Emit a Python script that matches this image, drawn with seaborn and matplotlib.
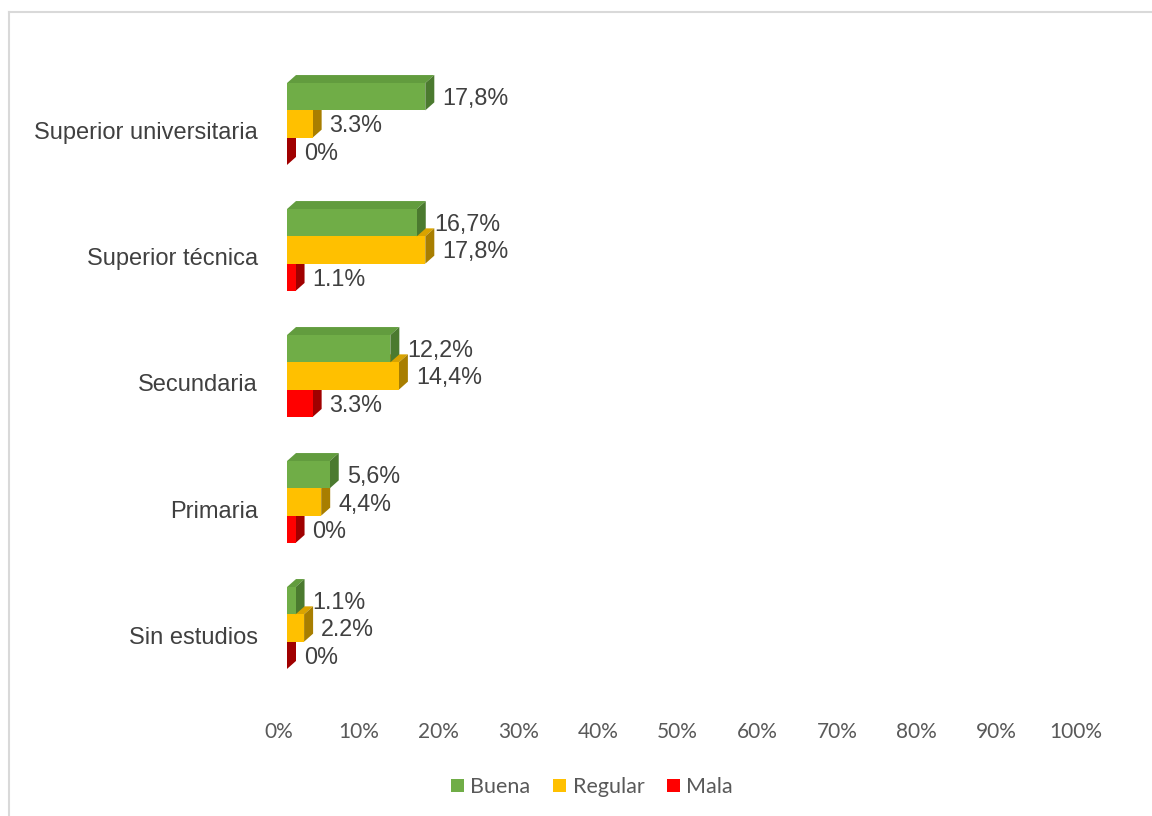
import matplotlib
matplotlib.use("Agg")
import matplotlib.pyplot as plt
from matplotlib.patches import Polygon, Patch
from matplotlib.lines import Line2D
from matplotlib.transforms import ScaledTranslation
import seaborn as sns
import pandas as pd

# ---------------- data ----------------
categories = ["Superior universitaria", "Superior técnica", "Secundaria", "Primaria", "Sin estudios"]
series = ["Buena", "Regular", "Mala"]
buena = [17.8, 16.7, 13.3, 5.5, 1.1]
regular = [3.3, 17.8, 14.4, 4.4, 2.2]
mala = [0.0, 1.1, 3.3, 1.1, 0.0]
buena_labels = ["17,8%", "16,7%", "12,2%", "5,6%", "1.1%"]
regular_labels = ["3.3%", "17,8%", "14,4%", "4,4%", "2.2%"]
mala_labels = ["0%", "1.1%", "3.3%", "0%", "0%"]
xticks = [0, 10, 20, 30, 40, 50, 60, 70, 80, 90, 100]
xtick_labels = [f"{t}%" for t in xticks]

front_colors = ["#70AD47", "#FFC000", "#FF0000"]
top_colors = ["#629C3E", "#D9A300", "#C80000"]
side_colors = ["#4B7A2F", "#A87E00", "#A00000"]

values = [buena, regular, mala]
labels = [buena_labels, regular_labels, mala_labels]

df = pd.DataFrame({
    "Nivel": categories * 3,
    "Serie": [s for s in series for _ in categories],
    "Valor": buena + regular + mala,
})

# ---------------- figure ----------------
W, H = 1152, 816
fig = plt.figure(figsize=(W / 100, H / 100), dpi=100)
fig.patch.set_facecolor("white")

ax_left, ax_w = 287, 777
ax_top, ax_h = 48.4, 655.2
ax = fig.add_axes([ax_left / W, 1 - (ax_top + ax_h) / H, ax_w / W, ax_h / H])

sns.barplot(data=df, y="Nivel", x="Valor", hue="Serie", order=categories,
            hue_order=series, palette=front_colors, saturation=1, width=0.65,
            orient="h", errorbar=None, legend=False, ax=ax, linewidth=0)
ax.set_xlim(0, 100)
ax.set_ylim(4.6, -0.6)
ax.set_xlabel("")
ax.set_ylabel("")
ax.set_xticks([])
for sp in ax.spines.values():
    sp.set_visible(False)
ax.set_facecolor("none")

# category labels
ax.tick_params(axis="y", length=0, pad=21, labelsize=17, labelcolor="#404040")
for lab in ax.get_yticklabels():
    lab.set_fontfamily("Liberation Sans")
    lab.set_transform(lab.get_transform() + ScaledTranslation(0, -7 / 100, fig.dpi_scale_trans))

# 3D faces
px_x = 100 / ax_w
px_y = 5.2 / ax_h
dxd, dyd = 9 * px_x, 8 * px_y
for si, cont in enumerate(ax.containers):
    z = 30 - 10 * si
    for ci, r in enumerate(cont):
        x0, w, y0, h = r.get_x(), r.get_width(), r.get_y(), r.get_height()
        r.set_zorder(z + 2)
        top = Polygon([(x0, y0), (x0 + dxd, y0 - dyd), (x0 + w + dxd, y0 - dyd), (x0 + w, y0)],
                      closed=True, facecolor=top_colors[si], edgecolor="none", zorder=z + 1)
        side = Polygon([(x0 + w, y0), (x0 + w + dxd, y0 - dyd), (x0 + w + dxd, y0 + h - dyd), (x0 + w, y0 + h)],
                       closed=True, facecolor=side_colors[si], edgecolor="none", zorder=z + 1)
        ax.add_patch(top)
        ax.add_patch(side)
        ax.annotate(labels[si][ci], xy=(x0 + w, y0 + h / 2), xytext=(17, -2),
                    textcoords="offset pixels", ha="left", va="center",
                    fontsize=16.8, color="#404040", family="Liberation Sans", zorder=50)

# value axis labels
ax2 = fig.add_axes([279 / W, 1 - 704 / H, 797 / W, 0.0001])
ax2.set_xlim(0, 100)
ax2.set_xticks(xticks)
ax2.set_xticklabels(xtick_labels)
ax2.set_yticks([])
for sp in ax2.spines.values():
    sp.set_visible(False)
ax2.tick_params(axis="x", length=0, pad=13, labelsize=15, labelcolor="#595959")
for lab in ax2.get_xticklabels():
    lab.set_fontfamily("Lato")
ax2.set_facecolor("none")

# legend
handles = [Patch(facecolor=c, edgecolor="none") for c in front_colors]
fig.legend(handles, series, loc="center", bbox_to_anchor=(592 / W, 1 - 787 / H), ncol=3,
           frameon=False, prop={"family": "Lato", "size": 15.5}, labelcolor="#595959",
           handlelength=0.6, handleheight=0.6, handletextpad=0.3, columnspacing=1.05)

# chart frame
fig.add_artist(Line2D([9 / W, 1], [1 - 12 / H, 1 - 12 / H], color="#D9D9D9", lw=1.5, transform=fig.transFigure))
fig.add_artist(Line2D([9 / W, 9 / W], [1 - 12 / H, 0], color="#D9D9D9", lw=1.5, transform=fig.transFigure))

fig.savefig("out.png", dpi=100)
